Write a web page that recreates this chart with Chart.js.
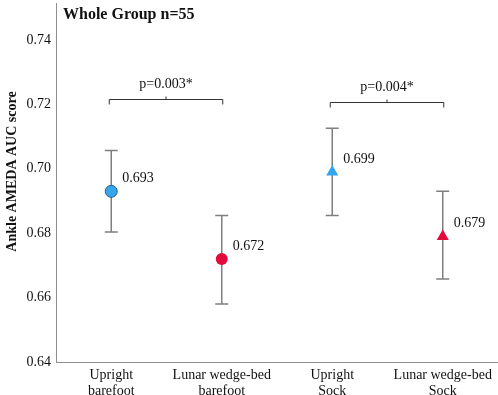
<!DOCTYPE html>
<html>
<head>
<meta charset="utf-8">
<script src="https://cdn.jsdelivr.net/npm/chart.js@4/dist/chart.umd.min.js"></script>
<style>
html,body{margin:0;padding:0;background:#fff;overflow:hidden;}
canvas{display:block;}
</style>
</head>
<body>
<canvas id="c" width="498" height="395" style="width:498px;height:395px"></canvas>
<script>
const categories = [["Upright","barefoot"],["Lunar wedge-bed","barefoot"],["Upright","Sock"],["Lunar wedge-bed","Sock"]];
const means = [0.693, 0.672, 0.699, 0.679];
const errLow = [0.6804, 0.6580, 0.6855, 0.6658];
const errHigh = [0.7057, 0.6855, 0.7126, 0.6930];
const valueLabels = ["0.693", "0.672", "0.699", "0.679"];
const yTicks = [0.64, 0.66, 0.68, 0.70, 0.72, 0.74];
const brackets = [
  {from: 0, to: 1, y: 0.7217, label: "p=0.003*"},
  {from: 2, to: 3, y: 0.7208, label: "p=0.004*"}
];
const titleText = "Whole Group n=55";
const yTitleText = "Ankle AMEDA AUC score";

const BLUE = '#36a6ec', RED = '#e20b3d';
const SERIF = '"Liberation Serif", "Times New Roman", serif';

function noPad(s) { s.paddingLeft = 0; s.paddingRight = 0; s.paddingTop = 0; s.paddingBottom = 0; }

const overlay = {
  id: 'overlay',
  beforeDatasetsDraw(chart) {
    const {ctx, scales: {x, y}} = chart;
    ctx.save();
    ctx.strokeStyle = '#7f7f7f';
    ctx.lineWidth = 1.5;
    means.forEach((m, i) => {
      const px = x.getPixelForValue(i);
      const yt = y.getPixelForValue(errHigh[i]);
      const yb = y.getPixelForValue(errLow[i]);
      ctx.beginPath();
      ctx.moveTo(px, yt); ctx.lineTo(px, yb);
      ctx.moveTo(px - 6.5, yt); ctx.lineTo(px + 6.5, yt);
      ctx.moveTo(px - 6.5, yb); ctx.lineTo(px + 6.5, yb);
      ctx.stroke();
    });
    ctx.restore();
  },
  afterDatasetsDraw(chart) {
    const {ctx, scales: {x, y}} = chart;
    ctx.save();
    ctx.fillStyle = '#111';
    ctx.font = '14px ' + SERIF;
    ctx.textAlign = 'left';
    ctx.textBaseline = 'middle';
    means.forEach((m, i) => {
      ctx.fillText(valueLabels[i], x.getPixelForValue(i) + 11, y.getPixelForValue(m) - 13);
    });
    ctx.strokeStyle = '#333';
    ctx.lineWidth = 1;
    brackets.forEach(b => {
      const x1 = x.getPixelForValue(b.from) - 2, x2 = x.getPixelForValue(b.to) + 1;
      const by = Math.round(y.getPixelForValue(b.y)) + 0.5;
      const cx = (x1 + x2) / 2;
      ctx.beginPath();
      ctx.moveTo(x1, by + 5); ctx.lineTo(x1, by); ctx.lineTo(x2, by); ctx.lineTo(x2, by + 5);
      ctx.moveTo(cx, by); ctx.lineTo(cx, by - 3);
      ctx.stroke();
      ctx.textAlign = 'center';
      ctx.fillText(b.label, cx, by - 15);
    });
    ctx.font = 'bold 16px ' + SERIF;
    ctx.textAlign = 'left';
    ctx.fillText(titleText, 63, 15);
    ctx.translate(12, 171.5);
    ctx.rotate(-Math.PI / 2);
    ctx.font = 'bold 14px ' + SERIF;
    ctx.textAlign = 'center';
    ctx.fillText(yTitleText, 0, 0);
    ctx.restore();
  }
};

new Chart(document.getElementById('c'), {
  type: 'line',
  data: {
    labels: categories,
    datasets: [{
      data: means,
      showLine: false,
      pointStyle: ['circle', 'circle', 'triangle', 'triangle'],
      pointRadius: [6, 6, 7, 7],
      pointHoverRadius: [6, 6, 7, 7],
      backgroundColor: [BLUE, RED, BLUE, RED],
      borderColor: ['#23628f', RED, BLUE, RED],
      pointBorderWidth: [1, 0, 0, 0]
    }]
  },
  options: {
    responsive: false,
    animation: false,
    events: [],
    layout: {autoPadding: false, padding: {top: 3, right: 0, left: 0, bottom: 0}},
    plugins: {legend: {display: false}, tooltip: {enabled: false}},
    scales: {
      x: {
        offset: true,
        grid: {display: false, drawTicks: false},
        border: {display: true, color: '#8f8f8f', width: 1},
        ticks: {
          color: '#111', padding: 5, maxRotation: 0, autoSkip: false,
          font: {family: SERIF, size: 14, lineHeight: 1.14}
        },
        afterFit(s) { s.height = 33; noPad(s); }
      },
      y: {
        min: 0.64, max: 0.7515,
        grid: {display: false, drawTicks: false},
        border: {display: true, color: '#8f8f8f', width: 1},
        afterBuildTicks(s) { s.ticks = yTicks.map(v => ({value: v})); },
        ticks: {
          color: '#111', padding: 5,
          font: {family: SERIF, size: 14},
          callback: v => Number(v).toFixed(2)
        },
        afterFit(s) { s.width = 56; noPad(s); }
      }
    }
  },
  plugins: [overlay]
});
</script>
</body>
</html>
